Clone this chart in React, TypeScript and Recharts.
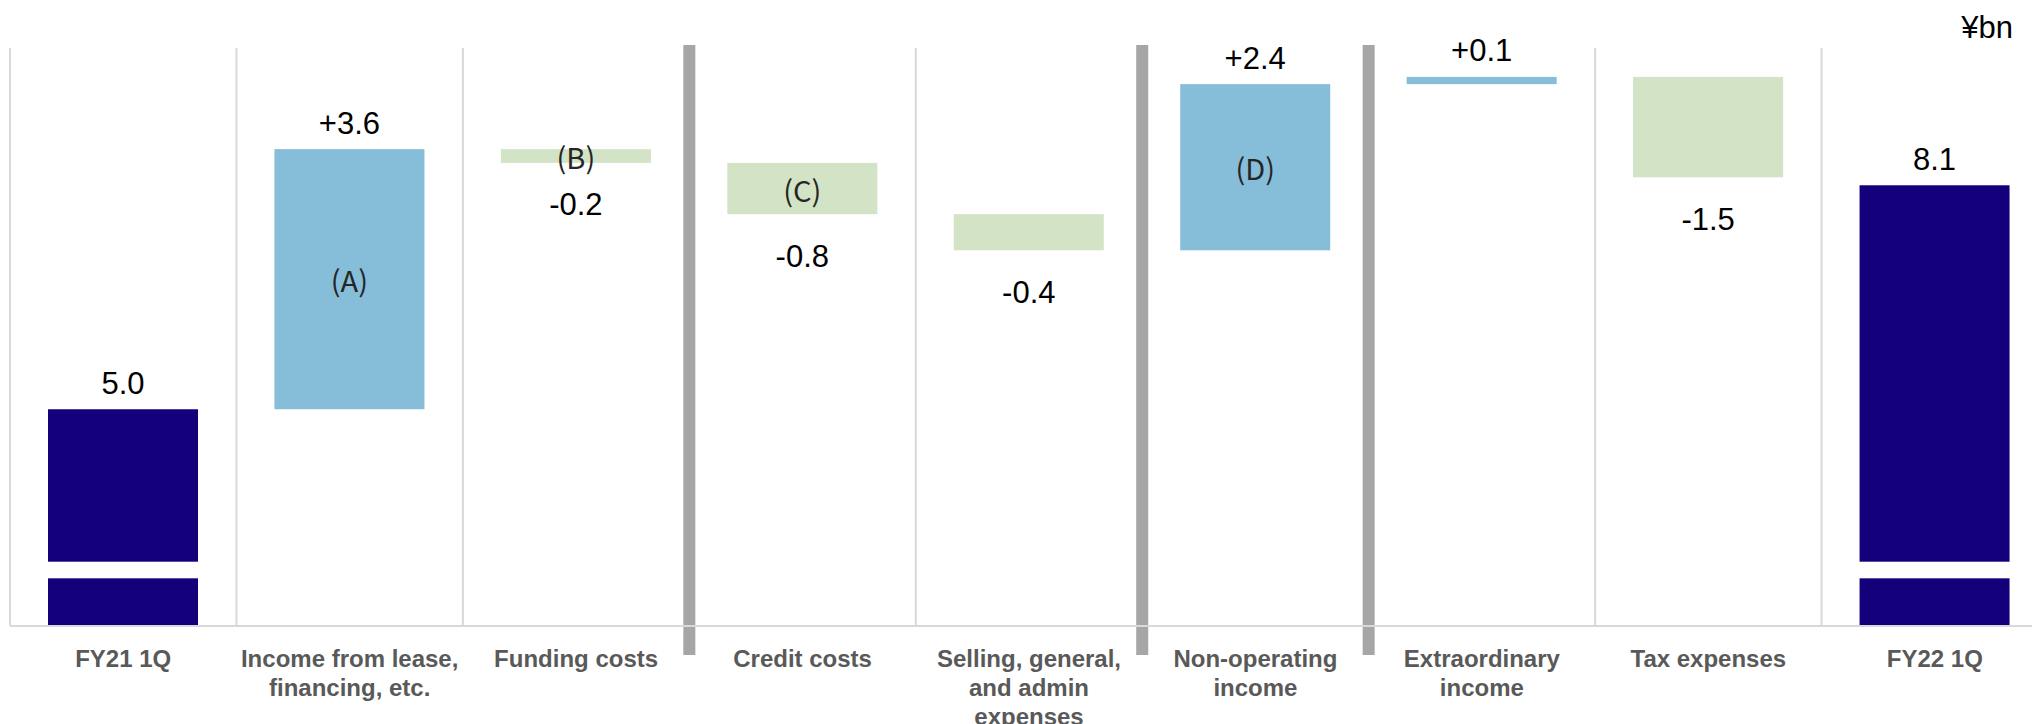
import { Bar, BarChart, CartesianGrid, ReferenceLine, XAxis, YAxis } from "recharts";

const categories = [
  "FY21 1Q",
  "Income from lease, financing, etc.",
  "Funding costs",
  "Credit costs",
  "Selling, general, and admin expenses",
  "Non-operating income",
  "Extraordinary income",
  "Tax expenses",
  "FY22 1Q",
];
const tickLines = [
  ["FY21 1Q"],
  ["Income from lease,", "financing, etc."],
  ["Funding costs"],
  ["Credit costs"],
  ["Selling, general,", "and admin", "expenses"],
  ["Non-operating", "income"],
  ["Extraordinary", "income"],
  ["Tax expenses"],
  ["FY22 1Q"],
];
// totals are absolute, the rest are changes (bar heights as drawn)
const steps = [5.0, 3.6, -0.19, -0.71, -0.5, 2.3, 0.1, -1.39, 8.1];
const isTotal = [true, false, false, false, false, false, false, false, true];
const valueLabels = ["5.0", "+3.6", "-0.2", "-0.8", "-0.4", "+2.4", "+0.1", "-1.5", "8.1"];
const innerLabels = ["", "(A)", "(B)", "(C)", "", "(D)", "", "", ""];
const sectionStarts = ["Credit costs", "Non-operating income", "Extraordinary income"];

const yMin = 2;
const yMax = 10;
const breakBand = [2.66, 2.89];

const colors: Record<string, string> = {
  total: "#13007A",
  up: "#86BEDA",
  down: "#D3E3C5",
};

let running = 0;
const rows = categories.map((name, i) => {
  const step = steps[i];
  let range: number[];
  if (isTotal[i]) {
    range = [yMin, step];
    running = step;
  } else {
    const next = running + step;
    range = [Math.min(running, next), Math.max(running, next)];
    running = next;
  }
  return {
    name,
    range,
    kind: isTotal[i] ? "total" : step >= 0 ? "up" : "down",
    valueLabel: valueLabels[i],
    inner: innerLabels[i],
  };
});

const WaterfallBar = (props: any) => {
  const { x, y, width, height, payload } = props;
  const color = colors[payload.kind];
  const [lo, hi] = payload.range;
  const pxPerUnit = height / (hi - lo);
  const bottom = y + height;
  const labelY = payload.kind === "down" ? bottom + 42 : y - 26;

  let body;
  if (payload.kind === "total") {
    const gapTop = bottom - (breakBand[1] - lo) * pxPerUnit;
    const gapBottom = bottom - (breakBand[0] - lo) * pxPerUnit;
    body = (
      <>
        <rect x={x} y={y} width={width} height={gapTop - y} fill={color} />
        <rect x={x} y={gapBottom} width={width} height={bottom - gapBottom} fill={color} />
      </>
    );
  } else {
    body = <rect x={x} y={y} width={width} height={height} fill={color} />;
  }

  return (
    <g>
      {body}
      <text
        x={x + width / 2}
        y={labelY}
        textAnchor="middle"
        dominantBaseline="central"
        fontFamily="Liberation Sans"
        fontSize={31}
        fill="#000"
      >
        {payload.valueLabel}
      </text>
      {payload.inner && (
        <text
          x={x + width / 2}
          y={y + height / 2}
          textAnchor="middle"
          dominantBaseline="central"
          fontFamily="Noto Sans CJK JP"
          fontSize={29}
          fill="#262626"
        >
          {payload.inner}
        </text>
      )}
    </g>
  );
};

const CategoryTick = (props: any) => {
  const { x, y, payload } = props;
  const lines = tickLines[categories.indexOf(payload.value)] || [payload.value];
  return (
    <text
      textAnchor="middle"
      fill="#595959"
      fontFamily="Liberation Sans"
      fontWeight="bold"
      fontSize={24}
    >
      {lines.map((line, i) => (
        <tspan key={i} x={x} y={y + 41 + i * 29}>
          {line}
        </tspan>
      ))}
    </text>
  );
};

const SeparatorLine = (p: any) => (
  <line
    x1={p.x1}
    x2={p.x2}
    y1={Math.min(p.y1, p.y2) - 3}
    y2={Math.max(p.y1, p.y2) + 29}
    stroke="#A6A6A6"
    strokeWidth={12}
  />
);

const App = () => {
  return (
    <div
      style={{
        position: "fixed",
        left: 0,
        top: 0,
        width: 2032,
        height: 724,
        overflow: "hidden",
        background: "#fff",
      }}
    >
      <BarChart
        width={2060}
        height={724}
        data={rows}
        margin={{ top: 48, right: 12, bottom: 38, left: 10 }}
      >
        <CartesianGrid
          horizontal={false}
          stroke="#D9D9D9"
          strokeWidth={2}
          verticalCoordinatesGenerator={({ offset }: any) =>
            Array.from(
              { length: categories.length + 1 },
              (_, i) => offset.left + (i * offset.width) / categories.length
            )
          }
        />
        <XAxis
          dataKey="name"
          height={60}
          interval={0}
          axisLine={{ stroke: "#D9D9D9", strokeWidth: 2 }}
          tickLine={false}
          tickSize={0}
          tickMargin={0}
          tick={<CategoryTick />}
        />
        <YAxis hide type="number" domain={[yMin, yMax]} />
        {sectionStarts.map((c) => (
          <ReferenceLine key={c} x={c} position="start" shape={SeparatorLine} />
        ))}
        <Bar dataKey="range" barSize={150} shape={<WaterfallBar />} isAnimationActive={false} />
      </BarChart>
      <div
        style={{
          position: "absolute",
          right: 19,
          top: 10,
          fontFamily: "Liberation Sans",
          fontSize: 31,
          color: "#000",
        }}
      >
        ¥bn
      </div>
    </div>
  );
};

export default App;
